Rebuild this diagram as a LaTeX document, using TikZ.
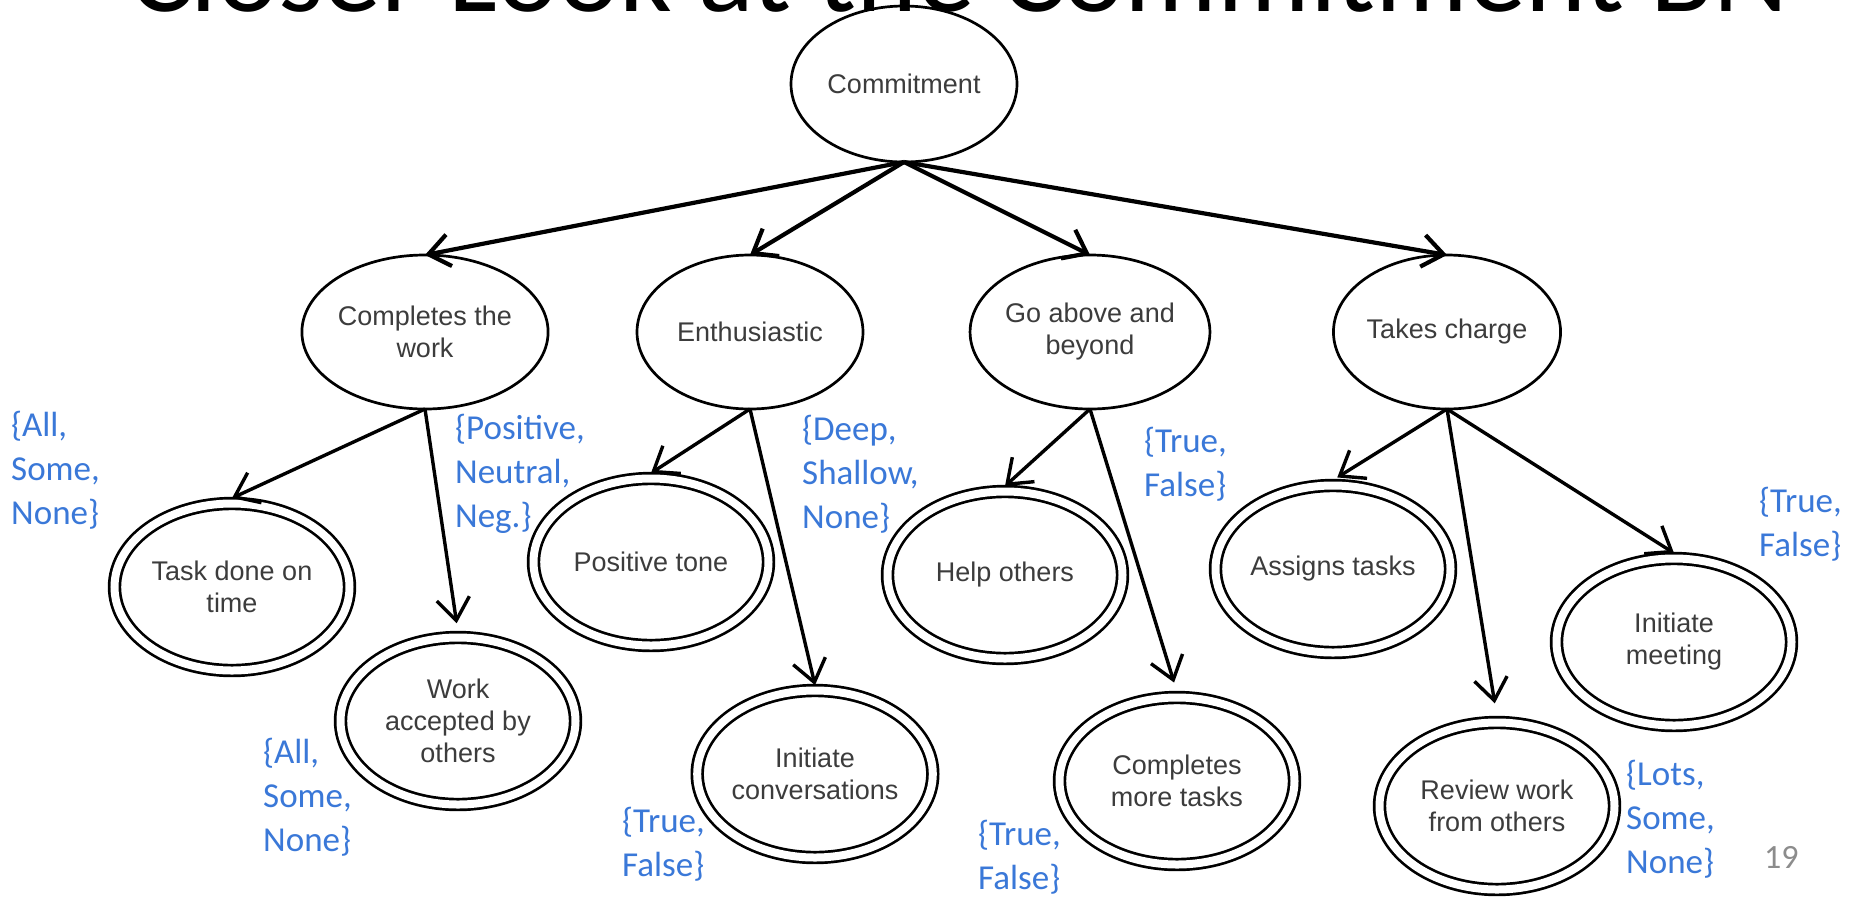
\documentclass[tikz,border=0pt]{standalone}
\usepackage{fontspec}
\setmainfont{Liberation Sans}
\newfontfamily\calfont{Carlito}
\usetikzlibrary{shapes.geometric,arrows.meta}

\definecolor{valblue}{HTML}{3A78D8}
\definecolor{nodetext}{HTML}{3C3C3C}
\definecolor{pagenum}{HTML}{8C8C8C}

% fonts for node captions and state lists
\newcommand\captionfont{\fontsize{27pt}{32pt}\selectfont}
\newcommand\statefont{\calfont\fontsize{35pt}{44pt}\selectfont}
% stacked state values, baseline at the first line
\newcommand\statelist[1]{\begin{tabular}[t]{@{}l@{}}#1\end{tabular}}

\begin{document}
\begin{tikzpicture}[x=1pt,y=-1pt,
  every node/.style={inner sep=0pt},
  var/.style={ellipse, draw=black, line width=2.7pt,
    minimum width=226pt, minimum height=154pt, outer sep=0pt,
    align=center, font=\captionfont, text=nodetext},
  leaf/.style={var, double, double distance=8pt,
    minimum width=235pt, minimum height=167pt, outer sep=5.4pt},
  states/.style={anchor=base west, font=\statefont, text=valblue},
  toplink/.style={line width=4.2pt, -{Straight Barb[length=21pt,width=32pt]}},
  link/.style={line width=3.4pt, -{Straight Barb[length=22pt,width=33pt]}}
]
  % page area
  \path[fill=white, use as bounding box] (0,0) rectangle (1858,898);

  % slide heading, cut by the top edge
  \node[anchor=base, font=\calfont\fontsize{116pt}{116pt}\selectfont, text=black]
    (heading) at (959,11) {Closer Look at the Commitment BN};

  % root
  \node[var, minimum height=156pt] (root) at (904,84) {Commitment};

  % intermediate variables
  \node[var] (work)  at (425,332) {Completes the\\work};
  \node[var] (enth)  at (750,332) {Enthusiastic};
  \node[var] (above) at (1090,332) {Go above and\\beyond};
  \node[var] (charge) at (1447,332) {Takes charge};

  % observed variables
  \node[leaf] (ontime)   at (232,587)  {Task done on\\time};
  \node[leaf] (accepted) at (458,721)  {Work\\accepted by\\others};
  \node[leaf] (tone)     at (651,562)  {Positive tone};
  \node[leaf] (convo)    at (815,774)  {Initiate\\conversations};
  \node[leaf] (help)     at (1005,575) {Help others};
  \node[leaf] (more)     at (1177,781) {Completes\\more tasks};
  \node[leaf] (assign)   at (1333,569) {Assigns tasks};
  \node[leaf] (review)   at (1497,806) {Review work\\from others};
  \node[leaf] (meeting)  at (1674,642) {Initiate\\meeting};

  % links from the root
  \draw[toplink] (root.south) -- (work.north);
  \draw[toplink] (root.south) -- (enth.north);
  \draw[toplink] (root.south) -- (above.north);
  \draw[toplink] (root.south) -- (charge.north);

  % links to observed variables
  \draw[link] (work.south) -- (ontime.north);
  \draw[link, shorten >=9pt] (work.south) -- (accepted.north);
  \draw[link] (enth.south) -- (tone.north);
  \draw[link] (enth.south) -- (convo.north);
  \draw[link] (above.south) -- (help.north);
  \draw[link, shorten >=10pt] (above.south) -- (more.north);
  \draw[link, shorten >=5pt] (charge.south) -- (assign.north);
  \draw[link, shorten >=14pt] (charge.south) -- (review.north);
  \draw[link] (charge.south) -- (meeting.north);

  % state lists
  \node[states] (s-ontime)   at (11,436)   {\statelist{\{All,\\Some,\\None\}}};
  \node[states] (s-work)     at (455,439)  {\statelist{\{Positive,\\Neutral,\\Neg.\}}};
  \node[states] (s-accepted) at (263,763)  {\statelist{\{All,\\Some,\\None\}}};
  \node[states] (s-enth)     at (802,440)  {\statelist{\{Deep,\\Shallow,\\None\}}};
  \node[states] (s-convo)    at (622,832)  {\statelist{\{True,\\False\}}};
  \node[states] (s-help)     at (1144,452) {\statelist{\{True,\\False\}}};
  \node[states] (s-more)     at (978,845)  {\statelist{\{True,\\False\}}};
  \node[states] (s-meeting)  at (1759,512) {\statelist{\{True,\\False\}}};
  \node[states] (s-review)   at (1626,785) {\statelist{\{Lots,\\Some,\\None\}}};

  % page number
  \node[anchor=base west, font=\calfont\fontsize{34pt}{40pt}\selectfont, text=pagenum]
    (pageno) at (1764,868) {19};
\end{tikzpicture}
\end{document}
